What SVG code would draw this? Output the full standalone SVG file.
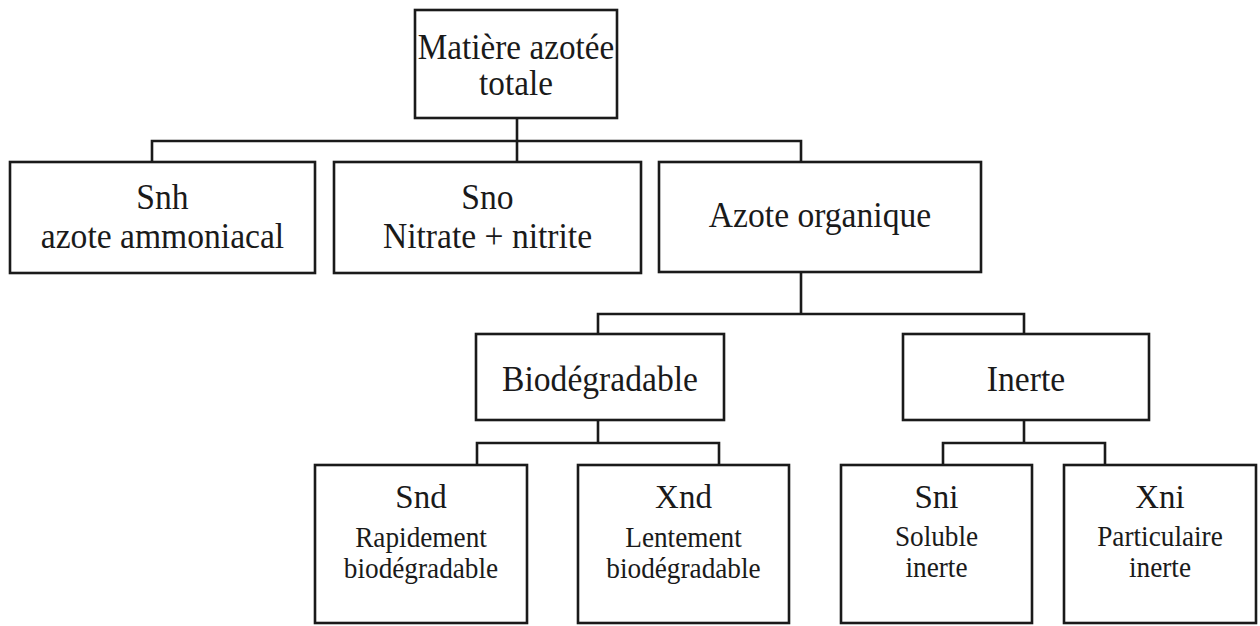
<svg xmlns="http://www.w3.org/2000/svg" width="1260" height="626" viewBox="0 0 1260 626">
  <style>
    .box { fill: #ffffff; stroke: #1a1a1a; stroke-width: 2.6; }
    .wire { fill: none; stroke: #1a1a1a; stroke-width: 2.6; }
    .lbl { font-family: 'Liberation Serif', 'Times New Roman', 'DejaVu Serif', serif; fill: #1a1a1a; text-anchor: middle; }
    .t1 { font-size: 35px; }
    .t2 { font-size: 35px; }
    .t3 { font-size: 33px; }
    .t4 { font-size: 29px; }
  </style>
  <rect width="1260" height="626" fill="#ffffff"/>

  <!-- connectors -->
  <g id="connectors">
    <path class="wire" d="M517 118 V162"/>
    <path class="wire" d="M152 162 V141 H801 V162"/>
    <path class="wire" d="M801 272 V314"/>
    <path class="wire" d="M598 334 V314 H1024 V334"/>
    <path class="wire" d="M598 420 V443"/>
    <path class="wire" d="M477 465 V443 H719 V465"/>
    <path class="wire" d="M1024 420 V443"/>
    <path class="wire" d="M943 465 V443 H1105 V465"/>
  </g>

  <!-- root -->
  <g id="node-total">
    <rect class="box" x="415" y="10" width="202" height="108"/>
    <text class="lbl t1" transform="translate(516 59) scale(0.95 1)">Matière azotée</text>
    <text class="lbl t1" transform="translate(516 95) scale(0.95 1)">totale</text>
  </g>

  <!-- second level -->
  <g id="node-snh">
    <rect class="box" x="10" y="162" width="305" height="111"/>
    <text class="lbl t2" transform="translate(162.5 209) scale(0.96 1)">Snh</text>
    <text class="lbl t2" transform="translate(162.5 248) scale(0.96 1)">azote ammoniacal</text>
  </g>
  <g id="node-sno">
    <rect class="box" x="334" y="162" width="307" height="111"/>
    <text class="lbl t2" transform="translate(487.5 209) scale(0.96 1)">Sno</text>
    <text class="lbl t2" transform="translate(487.5 248) scale(0.96 1)">Nitrate + nitrite</text>
  </g>
  <g id="node-organique">
    <rect class="box" x="659" y="162" width="322" height="110"/>
    <text class="lbl t2" transform="translate(820 227) scale(0.96 1)">Azote organique</text>
  </g>

  <!-- third level -->
  <g id="node-biodegradable">
    <rect class="box" x="476" y="334" width="248" height="86"/>
    <text class="lbl t2" transform="translate(600 391) scale(0.96 1)">Biodégradable</text>
  </g>
  <g id="node-inerte">
    <rect class="box" x="903" y="334" width="246" height="86"/>
    <text class="lbl t2" transform="translate(1026 391) scale(0.96 1)">Inerte</text>
  </g>

  <!-- leaves -->
  <g id="node-snd">
    <rect class="box" x="315" y="465" width="212" height="158"/>
    <text class="lbl t3" x="421" y="508">Snd</text>
    <text class="lbl t4" transform="translate(421 547) scale(0.94 1)">Rapidement</text>
    <text class="lbl t4" transform="translate(421 578) scale(0.94 1)">biodégradable</text>
  </g>
  <g id="node-xnd">
    <rect class="box" x="578" y="465" width="211" height="158"/>
    <text class="lbl t3" x="683.5" y="508">Xnd</text>
    <text class="lbl t4" transform="translate(683.5 547) scale(0.94 1)">Lentement</text>
    <text class="lbl t4" transform="translate(683.5 578) scale(0.94 1)">biodégradable</text>
  </g>
  <g id="node-sni">
    <rect class="box" x="841" y="465" width="191" height="158"/>
    <text class="lbl t3" x="936.5" y="508">Sni</text>
    <text class="lbl t4" transform="translate(936.5 546) scale(0.94 1)">Soluble</text>
    <text class="lbl t4" transform="translate(936.5 577) scale(0.94 1)">inerte</text>
  </g>
  <g id="node-xni">
    <rect class="box" x="1064" y="465" width="192" height="158"/>
    <text class="lbl t3" x="1160" y="508">Xni</text>
    <text class="lbl t4" transform="translate(1160 546) scale(0.94 1)">Particulaire</text>
    <text class="lbl t4" transform="translate(1160 577) scale(0.94 1)">inerte</text>
  </g>
</svg>
